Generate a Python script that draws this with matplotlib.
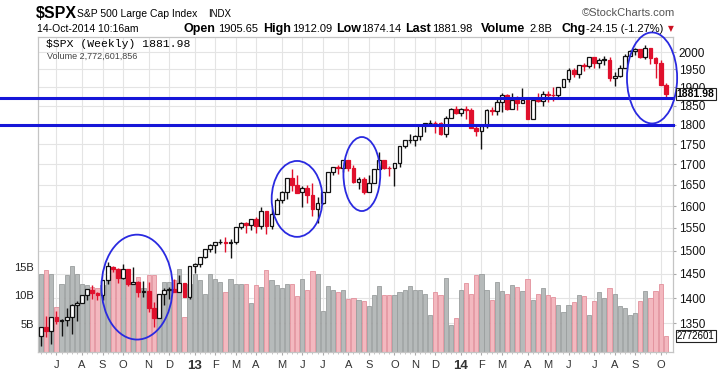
import matplotlib
matplotlib.use('Agg')
import matplotlib.pyplot as plt
from matplotlib.patches import Ellipse
from matplotlib.ticker import NullLocator
from matplotlib.transforms import blended_transform_factory
import numpy as np
import pandas as pd

plt.rcParams['font.family'] = ['Liberation Sans', 'DejaVu Sans']

# weekly $SPX candles, week of 11-Jun-2012 .. week of 13-Oct-2014
weeks = pd.date_range('2012-06-11', periods=123, freq='W-MON')

opens = [1325.7, 1342.4, 1334.9, 1362.3, 1354.7, 1356.5, 1362.3, 1385.9, 1391.0, 1405.9,
         1417.4, 1411.1, 1406.5, 1437.9, 1465.4, 1459.8, 1440.9, 1460.9, 1428.8, 1433.2,
         1412.0, 1414.0, 1379.9, 1359.9, 1409.2, 1416.3, 1418.1, 1413.5, 1430.2, 1402.4,
         1466.5, 1472.1, 1486.0, 1503.0, 1513.2, 1517.9, 1519.8, 1515.6, 1518.2, 1551.2,
         1560.7, 1556.9, 1569.2, 1553.3, 1588.9, 1555.3, 1582.3, 1614.4, 1633.7, 1667.5,
         1649.6, 1631.7, 1643.4, 1626.7, 1592.4, 1606.3, 1631.9, 1680.2, 1692.1, 1691.7,
         1709.7, 1691.4, 1655.8, 1663.5, 1633.0, 1655.2, 1688.0, 1709.9, 1691.8, 1690.5,
         1703.2, 1744.5, 1759.8, 1761.6, 1770.6, 1798.2, 1804.8, 1805.8, 1805.1, 1775.3,
         1818.3, 1841.4, 1831.4, 1842.4, 1838.7, 1790.3, 1782.6, 1797.0, 1838.6, 1836.3,
         1859.5, 1878.0, 1841.1, 1866.5, 1857.6, 1865.1, 1815.7, 1864.9, 1863.4, 1881.1,
         1878.5, 1877.9, 1900.5, 1923.6, 1949.4, 1936.2, 1962.9, 1961.0, 1985.4, 1967.6,
         1978.2, 1978.3, 1925.2, 1931.6, 1955.1, 1988.4, 2003.4, 2007.7, 1985.5, 2010.4,
         1982.9, 1967.9, 1905.65]
highs = [1343.3, 1363.5, 1362.2, 1374.8, 1357.7, 1380.4, 1389.2, 1394.2, 1407.1, 1418.7,
         1426.7, 1413.5, 1437.9, 1474.5, 1467.1, 1463.2, 1470.9, 1460.9, 1464.0, 1435.5,
         1434.3, 1433.4, 1391.4, 1409.2, 1421.5, 1423.7, 1438.6, 1448.0, 1430.2, 1467.9,
         1472.8, 1485.2, 1503.3, 1514.4, 1518.3, 1524.7, 1530.9, 1525.8, 1552.5, 1563.6,
         1564.0, 1570.3, 1573.7, 1597.4, 1588.9, 1592.6, 1618.5, 1635.0, 1667.5, 1687.2,
         1674.2, 1646.5, 1648.7, 1654.2, 1620.1, 1631.9, 1680.2, 1693.1, 1698.8, 1709.7,
         1709.7, 1697.0, 1669.5, 1669.5, 1672.4, 1689.0, 1729.9, 1711.0, 1696.6, 1703.4,
         1745.3, 1759.8, 1775.2, 1774.5, 1798.2, 1804.8, 1813.6, 1810.0, 1808.4, 1823.8,
         1844.9, 1849.4, 1843.2, 1850.8, 1844.4, 1798.8, 1798.0, 1840.2, 1847.5, 1867.9,
         1883.6, 1882.4, 1884.0, 1875.2, 1897.3, 1872.5, 1869.6, 1884.9, 1891.3, 1891.3,
         1902.2, 1901.3, 1924.0, 1955.6, 1955.6, 1963.9, 1968.2, 1985.6, 1985.6, 1983.9,
         1989.2, 1984.9, 1942.9, 1964.0, 1994.8, 2005.0, 2011.2, 2007.7, 2019.3, 2010.4,
         1985.2, 1977.4, 1912.09]
lows = [1307.0, 1324.4, 1309.3, 1348.0, 1325.4, 1345.1, 1329.2, 1354.7, 1390.6, 1397.3,
        1398.0, 1397.0, 1396.6, 1429.1, 1454.2, 1430.5, 1439.0, 1425.5, 1428.6, 1403.3,
        1403.3, 1373.0, 1343.4, 1359.9, 1385.4, 1398.2, 1411.9, 1413.5, 1401.6, 1398.1,
        1451.6, 1465.6, 1485.0, 1496.3, 1495.0, 1513.6, 1497.3, 1485.0, 1514.6, 1547.4,
        1538.6, 1546.2, 1539.5, 1548.6, 1536.0, 1548.2, 1581.3, 1607.4, 1616.5, 1635.5,
        1630.7, 1598.2, 1608.1, 1577.7, 1560.3, 1603.9, 1631.9, 1674.4, 1676.0, 1681.9,
        1683.4, 1654.2, 1639.4, 1627.5, 1633.0, 1655.2, 1688.0, 1687.0, 1670.4, 1646.5,
        1692.1, 1740.5, 1752.7, 1746.2, 1760.6, 1780.8, 1800.9, 1779.1, 1772.3, 1768.0,
        1818.3, 1827.7, 1823.7, 1815.5, 1790.3, 1770.5, 1737.9, 1791.5, 1824.6, 1825.3,
        1834.4, 1839.6, 1841.1, 1840.0, 1857.6, 1814.4, 1815.7, 1859.0, 1850.6, 1859.8,
        1862.4, 1868.1, 1900.5, 1915.8, 1929.8, 1925.8, 1944.7, 1955.6, 1952.9, 1955.6,
        1962.3, 1916.4, 1904.8, 1928.3, 1955.1, 1988.4, 1990.1, 1983.0, 1978.5, 1965.0,
        1926.0, 1906.1, 1874.14]
closes = [1342.8, 1335.0, 1362.2, 1354.7, 1356.8, 1362.7, 1386.0, 1391.0, 1405.9, 1418.2,
          1411.1, 1406.6, 1437.9, 1465.8, 1460.2, 1440.7, 1460.9, 1428.6, 1433.2, 1411.9,
          1414.2, 1379.9, 1359.9, 1409.2, 1416.2, 1418.1, 1413.6, 1430.2, 1402.4, 1466.5,
          1472.1, 1486.0, 1503.0, 1513.2, 1517.9, 1519.8, 1515.6, 1518.2, 1551.2, 1560.7,
          1556.9, 1569.2, 1553.3, 1588.9, 1555.3, 1582.2, 1614.4, 1633.7, 1667.5, 1649.6,
          1630.7, 1643.4, 1626.7, 1592.4, 1606.3, 1631.9, 1680.2, 1692.1, 1691.7, 1709.7,
          1691.4, 1655.8, 1663.5, 1633.0, 1655.2, 1688.0, 1709.9, 1691.8, 1690.5, 1703.2,
          1744.5, 1759.8, 1761.6, 1770.6, 1798.2, 1804.8, 1805.8, 1805.1, 1775.3, 1818.3,
          1841.4, 1831.4, 1842.4, 1838.7, 1790.3, 1782.6, 1797.0, 1838.6, 1836.3, 1859.5,
          1878.0, 1841.1, 1866.5, 1857.6, 1865.1, 1815.7, 1864.9, 1863.4, 1881.1, 1878.5,
          1877.9, 1900.5, 1923.6, 1949.4, 1936.2, 1962.9, 1961.0, 1985.4, 1967.6, 1978.2,
          1978.3, 1925.2, 1931.6, 1955.1, 1988.4, 2003.4, 2007.7, 1985.5, 2010.4, 1982.9,
          1967.9, 1906.1, 1881.98]
# weekly volume, billions of shares
volume = [13.8, 14.4, 13.8, 8.0, 12.0, 13.5, 15.2, 13.8, 12.0, 11.8,
          11.5, 11.2, 11.8, 15.0, 14.7, 13.8, 13.8, 13.5, 12.3, 13.2,
          11.2, 13.5, 13.5, 9.4, 12.3, 12.3, 12.6, 14.7, 6.2, 12.0,
          13.8, 12.6, 10.3, 13.8, 12.9, 12.3, 10.6, 12.9, 12.0, 12.0,
          11.9, 8.7, 11.8, 11.5, 14.4, 12.6, 11.8, 11.3, 11.9, 11.9,
          9.8, 12.8, 10.9, 14.2, 13.8, 7.2, 11.6, 11.0, 10.6, 10.9,
          9.3, 9.6, 9.1, 9.0, 8.1, 10.0, 11.6, 10.0, 10.0, 10.0,
          10.6, 10.9, 11.6, 11.0, 11.0, 10.2, 6.6, 10.6, 10.1, 13.0,
          4.7, 6.0, 11.0, 12.1, 10.3, 13.5, 13.8, 11.0, 9.1, 12.3,
          10.8, 10.2, 11.8, 11.5, 10.8, 12.8, 9.1, 10.2, 11.3, 10.0,
          9.7, 8.3, 7.0, 8.3, 8.8, 10.0, 9.8, 6.6, 9.0, 10.6,
          9.6, 11.3, 10.2, 8.1, 7.7, 6.5, 6.8, 9.0, 10.8, 9.5,
          10.8, 12.0, 2.77]

support_levels = [1870, 1800]
price_ticks = list(range(1350, 2001, 50))
vol_ticks = [5, 10, 15]

o = np.array(opens); h = np.array(highs); l = np.array(lows); c = np.array(closes)
x = np.arange(len(weeks))
prev = np.r_[o[0], c[:-1]]
down = c < prev

fig = plt.figure(figsize=(7.2, 3.73), dpi=100)
ax = fig.add_axes([38/720, 1 - 352/373, 635/720, 315/373])
axp = ax.twinx()

# volume bars (left axis)
ax.bar(x, volume, width=0.82, color=np.where(down, '#f3b8bf', '#b6baba'),
       edgecolor=np.where(down, '#e2909c', '#9a9e9e'), linewidth=0.6, zorder=2)
ax.set_ylim(0, 55.5)
ax.set_yticks(vol_ticks)
ax.set_yticklabels([f'{v}B' for v in vol_ticks])
ax.tick_params(axis='y', length=0, labelsize=8, pad=3, labelcolor='#222')

# month ticks
tick_pos = [i for i, d in enumerate(weeks) if d.day <= 7]
tick_lab = [str(weeks[i].year)[2:] if weeks[i].month == 1 else 'JFMAMJJASOND'[weeks[i].month - 1]
            for i in tick_pos]
ax.set_xlim(-0.6, 123.4)
ax.set_xticks(tick_pos)
ax.set_xticklabels(tick_lab)
ax.set_xticks(x, minor=True)
ax.tick_params(axis='x', which='major', length=2, labelsize=8, pad=4, color='#aaa', labelcolor='#333')
ax.tick_params(axis='x', which='minor', length=1.5, color='#bbb')
for t in ax.get_xticklabels():
    if t.get_text().isdigit():
        t.set_fontweight('bold')
        t.set_fontsize(9.5)
ax.grid(axis='x', color='#e4e4e4', lw=0.8)
ax.set_axisbelow(True)

# price grid drawn behind the volume bars
trans = blended_transform_factory(ax.transAxes, axp.transData)
for p in price_ticks:
    ax.plot([0, 1], [p, p], transform=trans, color='#e4e4e4', lw=0.8, zorder=0.5)

# candles (right, log axis)
col = np.where(down, '#e0102c', '#111111')
axp.vlines(x, l, h, colors=col, lw=1.0, zorder=3)
face = np.where(c >= o, 'white', col)
axp.bar(x, np.maximum(np.abs(c - o), 0.3), bottom=np.minimum(o, c), width=0.74,
        color=face, edgecolor=col, linewidth=0.9, zorder=4)
axp.set_yscale('log')
axp.set_ylim(1295, 2044)
axp.yaxis.set_minor_locator(NullLocator())
axp.set_yticks(price_ticks)
axp.set_yticklabels([str(p) for p in price_ticks])
axp.tick_params(axis='y', length=2, labelsize=8.5, pad=2, color='#aaa', labelcolor='#111')

for s in list(ax.spines.values()) + list(axp.spines.values()):
    s.set_color('#c4c4c4')

# support lines and highlight ellipses
for lv in support_levels:
    axp.axhline(lv, xmin=-38/635, xmax=1, color='#1616d8', lw=2.2, clip_on=False, zorder=5)
for cx, cy, w, hh in [(0.156, 0.206, 0.112, 0.333), (0.408, 0.486, 0.080, 0.241),
                      (0.510, 0.565, 0.058, 0.235), (0.967, 0.870, 0.079, 0.289)]:
    axp.add_patch(Ellipse((cx, cy), w, hh, transform=axp.transAxes, fill=False,
                          edgecolor='#2a2ae0', lw=1.3, clip_on=False, zorder=6))

# last value tags
axp.text(1.006, c[-1], f'{c[-1]:.2f}', transform=axp.get_yaxis_transform(), va='center',
         ha='left', fontsize=7.5, fontweight='bold', zorder=7,
         bbox=dict(boxstyle='square,pad=0.12', fc='white', ec='#222', lw=0.8))
ax.text(1.006, volume[-1], '2772601', transform=ax.get_yaxis_transform(), va='center',
        ha='left', fontsize=7, zorder=7,
        bbox=dict(boxstyle='square,pad=0.1', fc='white', ec='#222', lw=0.8))

# header
def ft(px, py, s, **kw):
    fig.text(px / 720, 1 - py / 373, s, va='center', ha='left', **kw)

ft(36, 13, r'\$SPX', fontsize=11.5, fontweight='bold')
ft(77, 14, 'S&P 500 Large Cap Index', fontsize=7.5)
ft(208, 14, 'INDX', fontsize=7)
ft(582, 13, '©StockCharts.com', fontsize=8, color='#555')
ft(37, 29, '14-Oct-2014 10:16am', fontsize=7.5)
for px, s in [(184, 'Open'), (263, 'High'), (336, 'Low'), (405, 'Last'), (481, 'Volume'), (561, 'Chg')]:
    ft(px, 29, s, fontsize=9, fontweight='bold')
for px, s in [(218, '1905.65'), (292, '1912.09'), (361, '1874.14'), (432, '1881.98'),
              (529, '2.8B'), (586, '-24.15 (-1.27%)')]:
    ft(px, 29, s, fontsize=8)
ft(668, 29, '▼', fontsize=5.5, color='#cc1122', family='DejaVu Sans')

# legend inside the plot
ft(46, 44, r'\$SPX (Weekly) 1881.98', fontsize=8.2, family='Liberation Mono')
ft(47, 56, 'Volume 2,772,601,856', fontsize=6.5, color='#444')

fig.savefig('out.png', dpi=100)
